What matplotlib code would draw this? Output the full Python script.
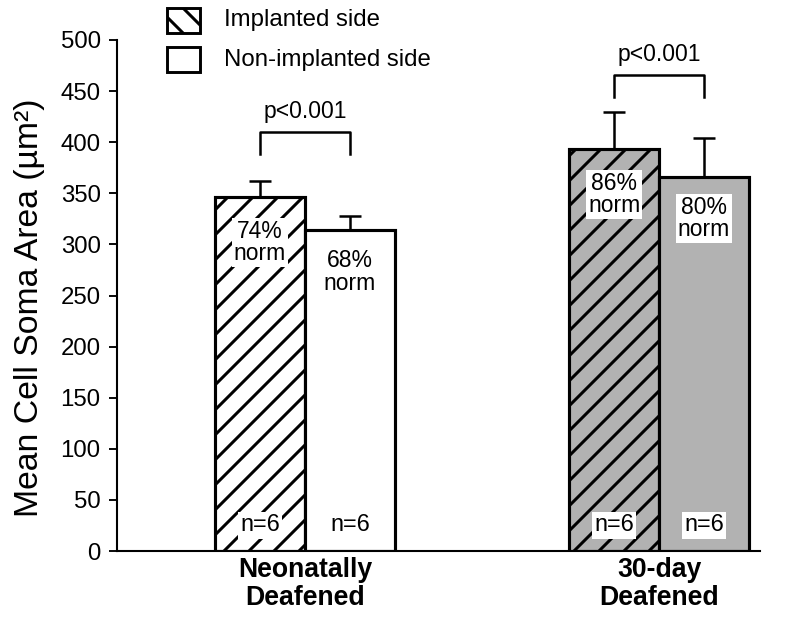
import matplotlib
matplotlib.use("Agg")
import matplotlib.pyplot as plt
from matplotlib.patches import Rectangle

plt.rcParams['font.family'] = ['Liberation Sans', 'DejaVu Sans']
plt.rcParams['hatch.linewidth'] = 1.45

groups = ["Neonatally\nDeafened", "30-day\nDeafened"]
implanted = [346, 393]
implanted_err = [16, 37]
nonimplanted = [314, 366]
nonimplanted_err = [14, 38]
implanted_pct = ["74%\nnorm", "86%\nnorm"]
nonimplanted_pct = ["68%\nnorm", "80%\nnorm"]
n_labels = ["n=6", "n=6"]
fills = ["white", "#b2b2b2"]
p_labels = ["p<0.001", "p<0.001"]
bracket_tops = [410, 466]
legend_labels = ["Implanted side", "Non-implanted side"]

DPI = 150
fig = plt.figure(figsize=(800 / DPI, 633 / DPI), dpi=DPI)
ax = fig.add_axes([117 / 800, 1 - 551 / 633, 643 / 800, 511 / 633])

w = 0.254
xs = [0, 1]
box = dict(facecolor='white', edgecolor='none', pad=1.0)
for i, x in enumerate(xs):
    ax.bar(x - w/2, implanted[i], w, color=fills[i], edgecolor='black', hatch='//', linewidth=1.5, zorder=2)
    ax.bar(x + w/2, nonimplanted[i], w, color=fills[i], edgecolor='black', linewidth=1.5, zorder=2)
    ax.errorbar(x - w/2, implanted[i], yerr=[[0], [implanted_err[i]]], color='black',
                capsize=5.3, capthick=1.2, elinewidth=1.2, zorder=1)
    ax.errorbar(x + w/2, nonimplanted[i], yerr=[[0], [nonimplanted_err[i]]], color='black',
                capsize=5.3, capthick=1.2, elinewidth=1.2, zorder=1)
    ax.text(x - w/2, implanted[i] - 44, implanted_pct[i], ha='center', va='center', fontsize=11,
            linespacing=0.95, bbox=box, zorder=3)
    ax.text(x + w/2, nonimplanted[i] - 41, nonimplanted_pct[i], ha='center', va='center', fontsize=11,
            linespacing=0.95, bbox=box, zorder=3)
    ax.text(x - w/2, 25, n_labels[i], ha='center', va='center', fontsize=11.3, bbox=box, zorder=3)
    ax.text(x + w/2, 25, n_labels[i], ha='center', va='center', fontsize=11.3, bbox=box, zorder=3)
    top = bracket_tops[i]
    ax.plot([x - w/2, x - w/2, x + w/2, x + w/2], [top - 22, top, top, top - 22],
            color='black', lw=1.2, zorder=2)
    ax.text(x, top + 9, p_labels[i], ha='center', va='bottom', fontsize=11)

ax.set_xlim(-0.531, 1.285)
ax.set_ylim(0, 500)
ax.set_yticks(range(0, 501, 50))
ax.tick_params(axis='y', labelsize=11.5, width=0.9, length=3.8, pad=4, direction='out')
ax.set_xticks(xs)
ax.set_xticklabels(groups, fontsize=12.8, fontweight='bold', linespacing=1.1)
ax.tick_params(axis='x', length=0, pad=3)
for s in ['top', 'right']:
    ax.spines[s].set_visible(False)
for s in ['left', 'bottom']:
    ax.spines[s].set_linewidth(1.0)
ax.set_ylabel("Mean Cell Soma Area (µm²)", fontsize=16.2, labelpad=7.5)
ax.yaxis.label.set_y(0.476)

# legend
fig.patches.append(Rectangle((167 / 800, 1 - 33 / 633), 33 / 800, 25 / 633, transform=fig.transFigure,
                             facecolor='white', edgecolor='black', hatch='\\\\', linewidth=1.4, figure=fig))
fig.patches.append(Rectangle((167 / 800, 1 - 72 / 633), 33 / 800, 25 / 633, transform=fig.transFigure,
                             facecolor='white', edgecolor='black', linewidth=1.4, figure=fig))
fig.text(224 / 800, 1 - 20 / 633, legend_labels[0], fontsize=11.5, va='center')
fig.text(224 / 800, 1 - 60 / 633, legend_labels[1], fontsize=11.5, va='center')

fig.savefig("out.png", dpi=DPI)
